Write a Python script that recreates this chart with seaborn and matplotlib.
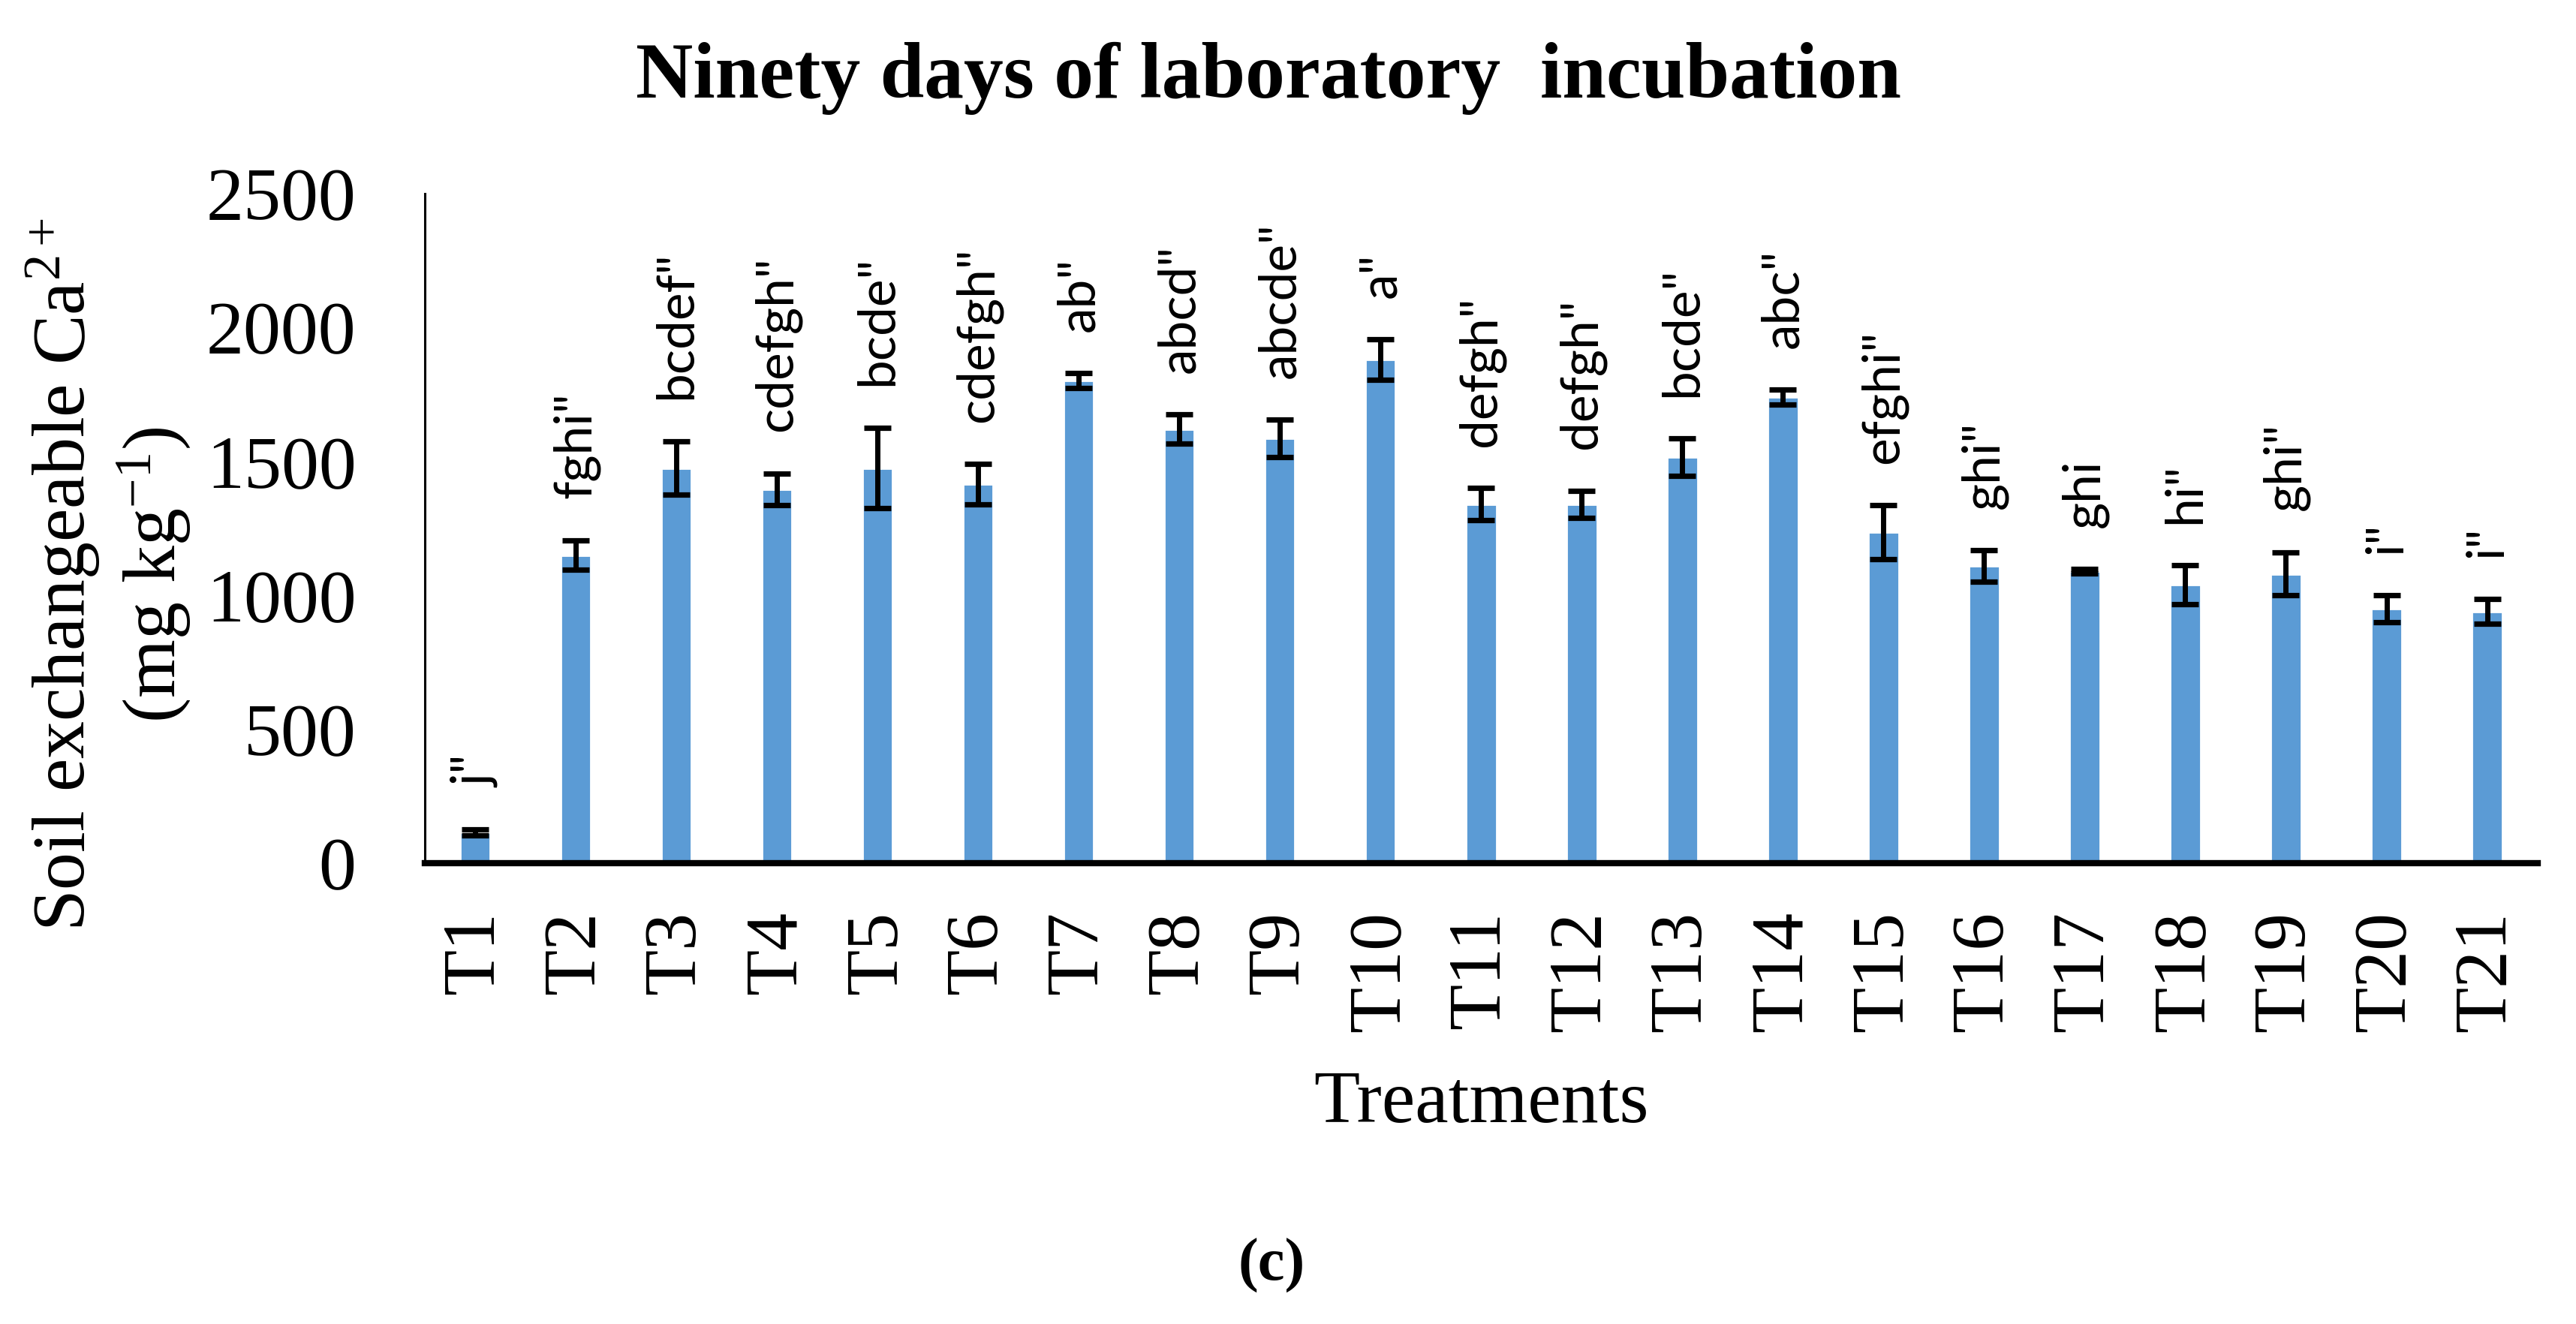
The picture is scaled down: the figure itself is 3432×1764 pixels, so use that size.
import matplotlib
matplotlib.use("Agg")
import matplotlib.pyplot as plt
import numpy as np
import seaborn as sns

# values (mg/kg), one per treatment
treatments = [f"T{i}" for i in range(1, 22)]
ca_mean = [115, 1150, 1475, 1395, 1475, 1415, 1800, 1620, 1585, 1880,
           1340, 1340, 1515, 1740, 1235, 1110, 1090, 1040, 1080, 950, 940]
ca_err = [12, 55, 100, 60, 150, 75, 28, 55, 70, 75,
          60, 50, 70, 27, 100, 58, 8, 72, 80, 50, 45]
letters = ['j"', 'fghi"', 'bcdef"', 'cdefgh"', 'bcde"', 'cdefgh"', 'ab"',
           'abcd"', 'abcde"', 'a"', 'defgh"', 'defgh"', 'bcde"', 'abc"',
           'efghi"', 'ghi"', 'ghi', 'hi"', 'ghi"', 'i"', 'i"']
y_ticks = [0, 500, 1000, 1500, 2000, 2500]

BAR_BLUE = "#5B9BD5"
SERIF = "Liberation Serif"

sns.set_style("white")
plt.rcParams["font.family"] = [SERIF, "DejaVu Serif"]
plt.rcParams["mathtext.fontset"] = "custom"
plt.rcParams["mathtext.rm"] = SERIF
plt.rcParams["mathtext.it"] = SERIF + ":italic"
for key in ["text.color", "axes.labelcolor", "xtick.color", "ytick.color"]:
    plt.rcParams[key] = "black"

fig = plt.figure(figsize=(17.16, 8.82), dpi=200)
ax = fig.add_axes([0.165, 0.348, 0.82, 0.506])

sns.barplot(x=treatments, y=ca_mean, color=BAR_BLUE, saturation=1,
            width=0.3, errorbar=None, ax=ax)
xpos = np.arange(len(treatments))
ax.errorbar(xpos, ca_mean, yerr=ca_err, fmt="none", ecolor="black",
            elinewidth=2.5, capsize=6.5, capthick=2.6, zorder=3)

# significance letters above each error bar
for x, m, e, lab in zip(xpos, ca_mean, ca_err, letters):
    ax.annotate(lab, xy=(x, m + e), xytext=(0, 20), textcoords="offset points",
                rotation=90, ha="center", va="bottom", color="black",
                fontsize=25, family=["Lato", "DejaVu Sans"])

ax.set_xlim(-0.5, len(treatments) - 0.5)
ax.set_ylim(0, 2500)
ax.set_yticks(y_ticks)
ax.set_yticklabels([str(t) for t in y_ticks], fontsize=36)
ax.set_xticks(xpos)
ax.set_xticklabels(treatments, fontsize=36, rotation=90)
ax.tick_params(axis="y", length=0, pad=33)
ax.tick_params(axis="x", length=0, pad=23)

sns.despine(ax=ax)
ax.spines["left"].set_linewidth(1.1)
ax.spines["left"].set_color("black")
ax.spines["bottom"].set_linewidth(3.0)
ax.spines["bottom"].set_color("black")

ax.set_xlabel("Treatments", fontsize=36)
ax.xaxis.set_label_coords(0.5, -0.309)
ax.set_ylabel("")

fig.text(0.4925, 0.941, "Ninety days of laboratory  incubation",
         ha="center", va="center", fontsize=38, weight="bold")
fig.text(0.0245, 0.566, r"Soil exchangeable Ca$^{\mathrm{2+}}$",
         rotation=90, ha="center", va="center", fontsize=36)
fig.text(0.0597, 0.566, r"(mg kg$^{\mathrm{-1}}$)",
         rotation=90, ha="center", va="center", fontsize=36)
fig.text(0.4936, 0.0437, "(c)", ha="center", va="center",
         fontsize=29, weight="bold")

fig.savefig("out.png", dpi=200, facecolor="white")
